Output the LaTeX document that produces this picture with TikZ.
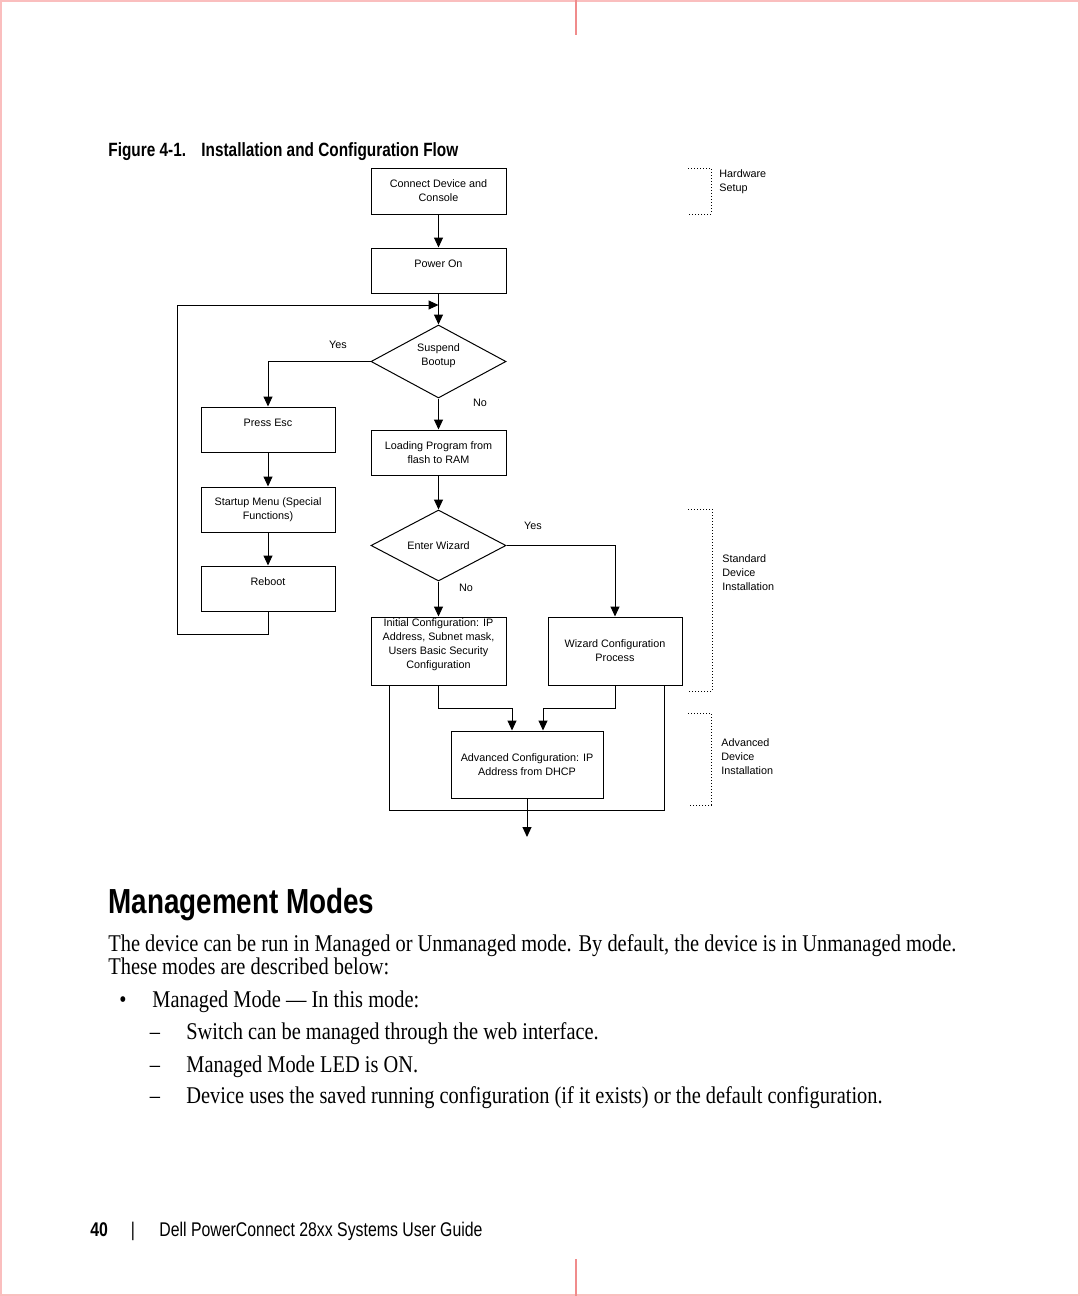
\documentclass[tikz,border=0pt]{standalone}
\usepackage{fontspec}
\setmainfont{Liberation Serif}[FakeStretch=0.85]
\newfontfamily\diagfont{Liberation Sans}
\newfontfamily\condfont{Liberation Sans}[FakeStretch=0.8]
\usetikzlibrary{shapes.geometric, arrows.meta}
\definecolor{trimpink}{RGB}{250,190,190}
\definecolor{trimred}{RGB}{240,140,140}
\newcommand{\diagtext}{\diagfont\fontsize{5.4}{7}\selectfont}

\begin{document}
\begin{tikzpicture}[x=0.5pt, y=-0.5pt,
  box/.style={rectangle, draw, line width=0.5pt, minimum width=67.5pt, minimum height=22.5pt, align=center, inner sep=1pt, font=\diagtext},
  decision/.style={diamond, draw, line width=0.5pt, aspect=1.85, minimum width=67.5pt, minimum height=36.5pt, inner sep=0pt, align=center, font=\diagtext},
  flow/.style={-{Triangle[length=5pt, width=4.5pt]}, line width=0.5pt},
  link/.style={line width=0.5pt},
  tag/.style={inner sep=0pt, font=\diagtext},
  bracket/.style={densely dotted, line width=0.5pt},
  note/.style={inner sep=0pt, anchor=west, align=left, font=\diagtext},
  txt/.style={inner sep=0pt, anchor=base west}]
  \useasboundingbox (0,0) rectangle (1080,1296);
  % Trim marks
  \draw[trimpink, line width=1pt] (1,1) rectangle (1079,1295);
  \draw[trimred, line width=1pt] (576,0) -- (576,35) (576,1259) -- (576,1296);
  % Caption
  \node (figno) [txt, font=\condfont\bfseries\fontsize{9.6}{12}\selectfont] at (108,156) {Figure 4-1.};
  \node (figtitle) [txt, font=\condfont\bfseries\fontsize{9.6}{12}\selectfont] at (201,156) {Installation and Configuration Flow};
  % Nodes
  \node (connect) [box, minimum height=23pt] at (438.5,191) {Connect Device and\\Console};
  \node (power) [box] at (438.5,270.5) {Power On\\\mbox{}};
  \node (suspend) [decision] at (438.5,361.5) {Suspend\\Bootup\\\mbox{}};
  \node (esc) [box, minimum width=67pt] at (268,429.5) {Press Esc\\\mbox{}};
  \node (loading) [box] at (438.5,452.5) {Loading Program from\\flash to RAM};
  \node (startup) [box, minimum width=67pt] at (268,509.5) {Startup Menu (Special\\Functions)};
  \node (reboot) [box, minimum width=67pt] at (268,588.5) {Reboot\\\mbox{}};
  \node (wizard) [decision, minimum height=35.5pt] at (438.5,545.5) {Enter Wizard};
  \node (initial) [box, minimum height=34pt] at (438.5,651) {Initial Configuration: IP\\Address, Subnet mask,\\Users Basic Security\\Configuration\\\mbox{}};
  \node (wizproc) [box, minimum width=67pt, minimum height=34pt] at (615,651) {Wizard Configuration\\Process};
  \node (advanced) [box, minimum width=76pt, minimum height=33.5pt] at (527,764.5) {Advanced Configuration: IP\\Address from DHCP};
  % Branch labels
  \node (yesA) [tag] at (338,345) {Yes};
  \node (noA) [tag] at (480,403) {No};
  \node (yesB) [tag] at (533,526) {Yes};
  \node (noB) [tag] at (466,588) {No};
  % Helper points
  \coordinate (loopin) at (438.5,305);
  \coordinate (loopleft) at (177,634);
  \coordinate (mergeL) at (512,708);
  \coordinate (mergeR) at (543,708);
  \coordinate (bypass) at (527,810);
  \coordinate (exit) at (527,837);
  % Arrows
  \draw[flow] (connect) -- (power);
  \draw[flow] (power) -- (suspend);
  \draw[flow] (reboot.south) |- (loopleft) |- (loopin);
  \draw[flow] (suspend.west) -| (esc.north);
  \draw[flow] (suspend) -- (loading);
  \draw[flow] (esc) -- (startup);
  \draw[flow] (startup) -- (reboot);
  \draw[flow] (loading) -- (wizard);
  \draw[flow] (wizard.east) -| (wizproc.north);
  \draw[flow] (wizard) -- (initial);
  \draw[flow] (initial.south) |- (mergeL) -- (mergeL |- advanced.north);
  \draw[flow] (wizproc.south) |- (mergeR) -- (mergeR |- advanced.north);
  \draw[link] ([xshift=9.5pt]initial.south west) |- (bypass) -| ([xshift=-9pt]wizproc.south east);
  \draw[flow] (advanced) -- (exit);
  % Dotted brackets
  \draw[bracket] (688,168) -| (711,214) -- (688,214);
  \draw[bracket] (688,509) -| (712,691) -- (688,691);
  \draw[bracket] (688,713) -| (711,805) -- (688,805);
  \node (hwnote) [note] at (719,182) {Hardware\\Setup};
  \node (stdnote) [note] at (722,572.5) {Standard\\Device\\Installation};
  \node (advnote) [note] at (721,757) {Advanced\\Device\\Installation};
  % Text below
  \node (heading) [txt, font=\condfont\bfseries\fontsize{17.4}{20}\selectfont] at (108,913) {Management Modes};
  \node (para1) [txt, font=\fontsize{12}{14}\selectfont] at (108,951) {The device can be run in Managed or Unmanaged mode. By default, the device is in Unmanaged mode.};
  \node (para2) [txt, font=\fontsize{12}{14}\selectfont] at (108,974) {These modes are described below:};
  \node (bullet) [inner sep=0pt, anchor=base, font=\fontsize{12}{14}\selectfont] at (123,1007) {\textbullet};
  \node (mode) [txt, font=\fontsize{12}{14}\selectfont] at (152,1007) {Managed Mode --- In this mode:};
  \foreach \y/\t [count=\i] in {1039/Switch can be managed through the web interface., 1072/Managed Mode LED is ON., 1103/Device uses the saved running configuration (if it exists) or the default configuration.} {
    \node (dash\i) [inner sep=0pt, anchor=base, font=\fontsize{12}{14}\selectfont] at (155,\y) {--};
    \node (item\i) [txt, font=\fontsize{12}{14}\selectfont] at (186,\y) {\t};
  }
  % Footer
  \node (pageno) [txt, font=\condfont\bfseries\fontsize{9.9}{12}\selectfont] at (90,1236) {40};
  \node (sep) [inner sep=0pt, anchor=base, font=\condfont\fontsize{9.9}{12}\selectfont] at (133,1236) {|};
  \node (guide) [txt, font=\condfont\fontsize{9.9}{12}\selectfont] at (159,1236) {Dell PowerConnect 28xx Systems User Guide};
\end{tikzpicture}
\end{document}
